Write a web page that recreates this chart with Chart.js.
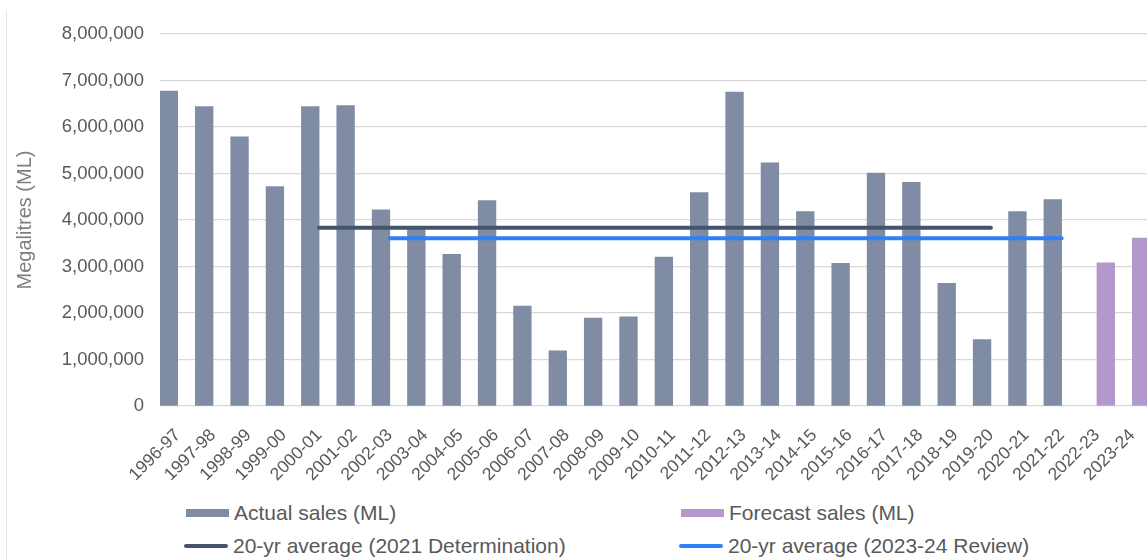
<!DOCTYPE html>
<html>
<head>
<meta charset="utf-8">
<title>Sales</title>
<script src="https://cdn.jsdelivr.net/npm/chart.js@4.4.0/dist/chart.umd.min.js"></script>
<style>
  body { margin: 0; background: #fff; overflow: hidden; width: 1147px; height: 559px; position: relative;
         font-family: "Liberation Sans", Arial, sans-serif; }
  #frame { position: absolute; left: 6px; top: 10px; width: 1px; height: 549px; background: #e6e6e6; }
  #wrap { position: absolute; left: 0; top: 0; width: 1150px; height: 490px; }
  .item { position: absolute; height: 24px; display: flex; align-items: center; color: #595959;
          font-size: 21px; white-space: nowrap; }
  .sw { display: inline-block; margin-right: 5px; }
</style>
</head>
<body>
<div id="frame"></div>
<div id="wrap"><canvas id="myChart"></canvas></div>
<div id="legend"></div>
<script>
// Financial years on the x axis
const years = ['1996-97', '1997-98', '1998-99', '1999-00', '2000-01', '2001-02', '2002-03', '2003-04',
  '2004-05', '2005-06', '2006-07', '2007-08', '2008-09', '2009-10', '2010-11', '2011-12', '2012-13',
  '2013-14', '2014-15', '2015-16', '2016-17', '2017-18', '2018-19', '2019-20', '2020-21', '2021-22',
  '2022-23', '2023-24'];

// Sales in megalitres
const actualSales = [6770000, 6440000, 5790000, 4720000, 6440000, 6460000, 4220000, 3800000,
  3260000, 4420000, 2150000, 1185000, 1890000, 1920000, 3200000, 4590000, 6750000,
  5230000, 4180000, 3070000, 5010000, 4810000, 2640000, 1430000, 4180000, 4440000,
  null, null];
const forecastSales = [null, null, null, null, null, null, null, null,
  null, null, null, null, null, null, null, null, null,
  null, null, null, null, null, null, null, null, null,
  3080000, 3610000];

// 20 year averages (only drawn over the years they cover)
const avg2021 = [null, null, null, null, 3835000, 3835000, 3835000, 3835000,
  3835000, 3835000, 3835000, 3835000, 3835000, 3835000, 3835000, 3835000, 3835000,
  3835000, 3835000, 3835000, 3835000, 3835000, 3835000, 3835000, null, null,
  null, null];
const avg2023 = [null, null, null, null, null, null, 3610000, 3610000,
  3610000, 3610000, 3610000, 3610000, 3610000, 3610000, 3610000, 3610000, 3610000,
  3610000, 3610000, 3610000, 3610000, 3610000, 3610000, 3610000, 3610000, 3610000,
  null, null];

const yTicks = [0, 1000000, 2000000, 3000000, 4000000, 5000000, 6000000, 7000000, 8000000];

const FONT = '"Liberation Sans", Arial, sans-serif';
const GREY = '#595959';

const chart = new Chart(document.getElementById('myChart').getContext('2d'), {
  type: 'bar',
  data: {
    labels: years,
    datasets: [
      { type: 'line', label: '20-yr average (2021 Determination)', data: avg2021,
        borderColor: '#44546a', borderWidth: 4, borderCapStyle: 'round', pointRadius: 0, order: 0 },
      { type: 'line', label: '20-yr average (2023-24 Review)', data: avg2023,
        borderColor: '#2f7ff6', borderWidth: 4, borderCapStyle: 'round', pointRadius: 0, order: 0 },
      { label: 'Actual sales (ML)', data: actualSales, backgroundColor: '#7f8ca4',
        categoryPercentage: 1, barPercentage: 1, order: 1 },
      { label: 'Forecast sales (ML)', data: forecastSales, backgroundColor: '#b398ce',
        categoryPercentage: 1, barPercentage: 1, order: 1 }
    ]
  },
  options: {
    responsive: true,
    maintainAspectRatio: false,
    animation: false,
    layout: { padding: { top: 34, right: 0, bottom: 0, left: 0 } },
    plugins: { legend: { display: false }, tooltip: { enabled: false } },
    scales: {
      x: {
        grid: { display: false, drawTicks: false },
        border: { display: false },
        ticks: { color: GREY, font: { family: FONT, size: 17.5 }, minRotation: 45, maxRotation: 45,
                 padding: 19, autoSkip: false },
        afterFit: s => { s.height = 84; s.paddingLeft = 0; s.paddingRight = 0; }
      },
      y: {
        min: 0,
        max: 8000000,
        afterBuildTicks: s => { s.ticks = yTicks.map(v => ({ value: v })); },
        ticks: { color: GREY, font: { family: FONT, size: 18.5 }, padding: 16,
                 callback: v => v.toLocaleString('en-US') },
        grid: { color: '#d9d9d9', lineWidth: 1.3, drawTicks: false },
        border: { display: false },
        title: { display: true, text: 'Megalitres (ML)', color: '#7f7f7f',
                 font: { family: FONT, size: 20 }, padding: { top: 13, bottom: 0 } },
        afterFit: s => { s.width = 160; }
      }
    }
  }
});

// Legend in two columns, built from the datasets
const legendSpots = {
  'Actual sales (ML)': [184, 501],
  'Forecast sales (ML)': [679, 501],
  '20-yr average (2021 Determination)': [184, 534],
  '20-yr average (2023-24 Review)': [679, 534]
};
const legend = document.getElementById('legend');
chart.data.datasets.forEach(ds => {
  const [x, y] = legendSpots[ds.label];
  const item = document.createElement('div');
  item.className = 'item';
  item.style.left = x + 'px';
  item.style.top = y + 'px';
  const sw = document.createElement('span');
  sw.className = 'sw';
  if (ds.type === 'line') {
    sw.style.width = '44px';
    sw.style.height = '4px';
    sw.style.borderRadius = '2px';
    sw.style.background = ds.borderColor;
  } else {
    sw.style.width = '43px';
    sw.style.height = '8px';
    sw.style.marginLeft = '2px';
    sw.style.background = ds.backgroundColor;
  }
  item.appendChild(sw);
  item.appendChild(document.createTextNode(ds.label));
  legend.appendChild(item);
});
</script>
</body>
</html>
